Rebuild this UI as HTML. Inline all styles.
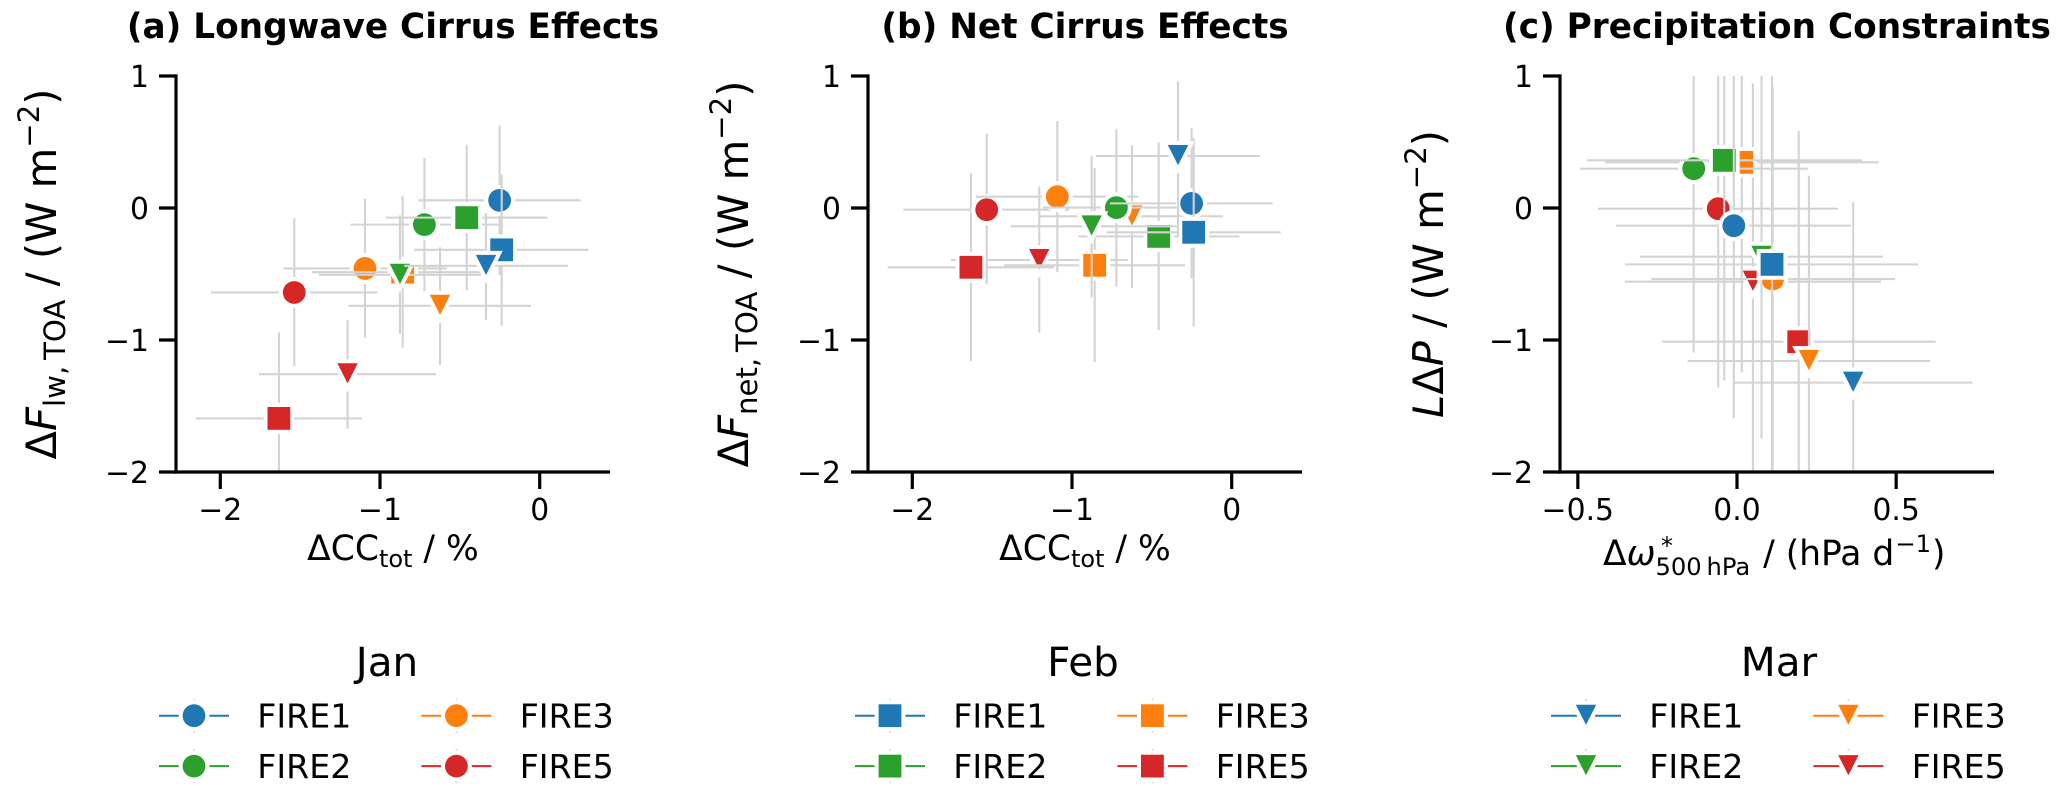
<!DOCTYPE html>
<html lang="en">
<head>
<meta charset="utf-8">
<title>Cirrus Effects</title>
<style>
html,body{margin:0;padding:0;background:#fff;}
svg{display:block;}
text{font-family:"DejaVu Sans","Liberation Sans",sans-serif;fill:#000;white-space:pre;}
.it{font-style:italic;}
</style>
</head>
<body>
<svg id="fig" xmlns="http://www.w3.org/2000/svg" width="2067" height="795" viewBox="0 0 2067 795">
  <rect x="0" y="0" width="2067" height="795" fill="#fff"/>
  <text x="393" y="38" font-size="34.3" font-weight="bold" text-anchor="middle">(a) Longwave Cirrus Effects</text>
  <text x="1085" y="38" font-size="34.3" font-weight="bold" text-anchor="middle">(b) Net Cirrus Effects</text>
  <text x="1777" y="38" font-size="34.3" font-weight="bold" text-anchor="middle">(c) Precipitation Constraints</text>

  <text transform="translate(56,274) rotate(-90)" font-size="41.7" text-anchor="middle">Δ<tspan class="it">F</tspan><tspan font-size="29.2" dy="9">lw,&#8201;TOA</tspan><tspan dy="-9"> / (W m</tspan><tspan font-size="29.2" dy="-17">−2</tspan><tspan dy="17">)</tspan></text>
  <text transform="translate(748,274) rotate(-90)" font-size="41.7" text-anchor="middle">Δ<tspan class="it">F</tspan><tspan font-size="29.2" dy="9">net,&#8201;TOA</tspan><tspan dy="-9"> / (W m</tspan><tspan font-size="29.2" dy="-17">−2</tspan><tspan dy="17">)</tspan></text>
  <text transform="translate(1443,274) rotate(-90)" font-size="41.7" text-anchor="middle"><tspan class="it">L</tspan>Δ<tspan class="it">P</tspan> / (W m<tspan font-size="29.2" dy="-17">−2</tspan><tspan dy="17">)</tspan></text>

  <text x="393" y="560" font-size="34.5" text-anchor="middle">ΔCC<tspan font-size="24" dy="7">tot</tspan><tspan dy="-7"> / %</tspan></text>
  <text x="1085" y="560" font-size="34.5" text-anchor="middle">ΔCC<tspan font-size="24" dy="7">tot</tspan><tspan dy="-7"> / %</tspan></text>
  <text x="1603" y="565" font-size="34.5">Δ<tspan class="it">ω</tspan><tspan font-size="24.2" dy="10">500&#8201;hPa</tspan><tspan dy="-10" dx="2"> / (hPa d</tspan><tspan font-size="24.2" dy="-13" dx="1">−1</tspan><tspan dy="13" dx="1">)</tspan></text>
  <text x="1667" y="554" font-size="24" text-anchor="middle">*</text>
  <g id="panels"></g>
  <g id="legends"></g>
</svg>
<script>
// Point order in every array: Jan[FIRE1,FIRE2,FIRE3,FIRE5], Feb[...], Mar[...]
const months = ["Jan", "Feb", "Mar"];
const fires = ["FIRE1", "FIRE2", "FIRE3", "FIRE5"];
const fireColors = ["#1f77b4", "#2ca02c", "#ff7f0e", "#d62728"];
const monthShapes = ["circle", "square", "triangle"];
const yTicks = [1, 0, -1, -2];
const xTicksCC = [-2, -1, 0];
const xTicksOmega = [-0.5, 0.0, 0.5];

const aX   = [-0.251,-0.722,-1.094,-1.537, -0.238,-0.457,-0.858,-1.633, -0.336,-0.875,-0.624,-1.203];
const aY   = [ 0.058,-0.126,-0.458,-0.640, -0.317,-0.073,-0.486,-1.594, -0.438,-0.506,-0.741,-1.259];
const aXlo = [-0.760,-1.184,-1.605,-2.058, -0.785,-0.962,-1.426,-2.154, -0.848,-1.382,-1.198,-1.758];
const aXhi = [ 0.257,-0.259,-0.582,-1.017,  0.307, 0.048,-0.363,-1.113,  0.177,-0.367,-0.054,-0.649];
const aYlo = [-0.509,-0.630,-0.982,-1.196, -0.892,-0.622,-1.058,-2.100, -0.849,-0.955,-1.189,-1.673];
const aYhi = [ 0.625, 0.380, 0.071,-0.078,  0.254, 0.479, 0.093,-0.942, -0.038,-0.055,-0.297,-0.849];

const bX   = [-0.251,-0.722,-1.092,-1.534, -0.238,-0.457,-0.858,-1.633, -0.336,-0.877,-0.624,-1.205];
const bY   = [ 0.035, 0.003, 0.086,-0.013, -0.184,-0.215,-0.434,-0.449,  0.394,-0.139,-0.063,-0.394];
const bXlo = [-0.762,-1.182,-1.603,-2.056, -0.783,-0.960,-1.424,-2.154, -0.850,-1.382,-1.200,-1.758];
const bXhi = [ 0.257,-0.271,-0.585,-1.017,  0.307, 0.048,-0.292,-1.113,  0.177,-0.344,-0.054,-0.651];
const bYlo = [-0.533,-0.596,-0.487,-0.578, -0.899,-0.924,-1.169,-1.159, -0.217,-0.677,-0.604,-0.944];
const bYhi = [ 0.604, 0.598, 0.659, 0.561,  0.528, 0.497, 0.303, 0.263,  0.957, 0.394, 0.475, 0.162];

const cX   = [-0.010,-0.136, 0.112,-0.059,  0.110,-0.040, 0.015, 0.194,  0.365, 0.077, 0.226, 0.050];
const cY   = [-0.134, 0.298,-0.538,-0.005, -0.427, 0.361, 0.346,-1.013, -1.323,-0.369,-1.159,-0.558];
const cXlo = [-0.380,-0.494,-0.269,-0.437, -0.352,-0.471,-0.415,-0.235, -0.010,-0.305,-0.155,-0.352];
const cXhi = [ 0.358, 0.222, 0.497, 0.317,  0.570, 0.393, 0.445, 0.624,  0.740, 0.459, 0.607, 0.452];
const cYlo = [-1.593,-1.096,-2.100,-1.361, -2.100,-1.308,-1.247,-2.100, -2.100,-1.745,-2.100,-2.100];
const cYhi = [ 1.200, 1.200, 0.919, 1.200,  1.200, 1.200, 1.200, 0.583,  0.048, 1.200, 0.245, 0.944];

const SVGNS = "http://www.w3.org/2000/svg";
const GRAY = "#d3d3d3";
const panelsRoot = document.getElementById("panels");
const legendsRoot = document.getElementById("legends");

function mk(parent, tag, attrs) {
  const el = document.createElementNS(SVGNS, tag);
  for (const k in attrs) el.setAttribute(k, attrs[k]);
  parent.appendChild(el);
  return el;
}

function markerGeometry(shape, cx, cy) {
  if (shape === "circle") return { tag: "circle", attrs: { cx: cx, cy: cy, r: 11.4 } };
  if (shape === "square") return { tag: "rect", attrs: { x: cx - 11.4, y: cy - 11.4, width: 22.8, height: 22.8 } };
  const pts = (cx - 10.2) + "," + (cy - 11) + " " + (cx + 10.2) + "," + (cy - 11) + " " + cx + "," + (cy + 9.2);
  return { tag: "polygon", attrs: { points: pts } };
}

function drawMarker(parent, shape, cx, cy, color) {
  const geo = markerGeometry(shape, cx, cy);
  const halo = mk(parent, geo.tag, geo.attrs);
  halo.setAttribute("fill", "#fff");
  halo.setAttribute("stroke", "#fff");
  halo.setAttribute("stroke-width", "8");
  halo.setAttribute("stroke-linejoin", "miter");
  halo.setAttribute("stroke-miterlimit", "10");
  
  
  const body = mk(parent, geo.tag, geo.attrs);
  body.setAttribute("fill", color);
  
  
}

function fmtTick(v, decimals) {
  const s = Math.abs(v).toFixed(decimals);
  return (v < 0 ? "\u2212" : "") + s;
}

function drawPanel(id, left, zeroX, pxPerX, xTicks, decimals, X, Y, Xlo, Xhi, Ylo, Yhi) {
  const right = left + 434;
  const top = 76, bottom = 472, zeroY = 208, pxPerY = 132;
  const xs = function (v) { return zeroX + v * pxPerX; };
  const ys = function (v) { return zeroY - v * pxPerY; };

  const g = mk(panelsRoot, "g", {});
  
  

  const defs = mk(g, "defs", {});
  const clip = mk(defs, "clipPath", { id: "clip-" + id });
  mk(clip, "rect", { x: left, y: top, width: right - left, height: bottom - top });

  const plot = mk(g, "g", { "clip-path": "url(#clip-" + id + ")" });
  
  

  const fireOrder = [3, 2, 1, 0];
  fireOrder.forEach(function (f) {
    const monthOrder = f === 3 ? [2, 1, 0] : [0, 1, 2];
    monthOrder.forEach(function (m) {
      const month = months[m];
      const i = m * fires.length + f;
      const pt = mk(plot, "g", {});
      
      
      const hLine = mk(pt, "line", { x1: xs(Xlo[i]), x2: xs(Xhi[i]), y1: ys(Y[i]), y2: ys(Y[i]), stroke: GRAY, "stroke-width": 2.1 });
      
      
      const vLine = mk(pt, "line", { x1: xs(X[i]), x2: xs(X[i]), y1: ys(Ylo[i]), y2: ys(Yhi[i]), stroke: GRAY, "stroke-width": 2.1 });
      
      
      drawMarker(pt, monthShapes[m], xs(X[i]), ys(Y[i]), fireColors[f]);
    });
  });

  const spineL = mk(g, "line", { x1: left, x2: left, y1: top - 1.6, y2: bottom + 1.6, stroke: "#000", "stroke-width": 3.2 });
  
  
  const spineB = mk(g, "line", { x1: left - 1.6, x2: right, y1: bottom, y2: bottom, stroke: "#000", "stroke-width": 3.2 });
  
  

  yTicks.forEach(function (v) {
    const t = mk(g, "line", { x1: left - 17, x2: left, y1: ys(v), y2: ys(v), stroke: "#000", "stroke-width": 3.2 });
    
    
    const lbl = mk(g, "text", { x: left - 27, y: ys(v) + 11, "font-size": 29.8, "text-anchor": "end" });
    
    
    lbl.textContent = fmtTick(v, 0);
  });

  xTicks.forEach(function (v) {
    const t = mk(g, "line", { x1: xs(v), x2: xs(v), y1: bottom, y2: bottom + 17, stroke: "#000", "stroke-width": 3.2 });
    
    
    const lbl = mk(g, "text", { x: xs(v), y: 520, "font-size": 29.8, "text-anchor": "middle" });
    
    
    lbl.textContent = fmtTick(v, decimals);
  });
}

drawPanel("a", 176, 539.7, 159.7, xTicksCC, 0, aX, aY, aXlo, aXhi, aYlo, aYhi);
drawPanel("b", 868, 1231.7, 159.7, xTicksCC, 0, bX, bY, bXlo, bXhi, bYlo, bYhi);
drawPanel("c", 1560, 1737, 318.3, xTicksOmega, 1, cX, cY, cXlo, cXhi, cYlo, cYhi);

function drawLegend(m) {
  const off = m * 696;
  const g = mk(legendsRoot, "g", {});
  
  
  const title = mk(g, "text", { x: 387 + off, y: 676, "font-size": 40.5, "text-anchor": "middle" });
  
  
  title.textContent = months[m];

  const layout = [[0, 0], [0, 1], [1, 0], [1, 1]];
  fires.forEach(function (name, f) {
    const col = layout[f][0], row = layout[f][1];
    const cx = 194 + off + col * 262.4;
    const cy = 715.7 + row * 50.4;
    const entry = mk(g, "g", {});
    
    
    mk(entry, "line", { x1: cx, x2: cx, y1: cy - 17, y2: cy + 17, stroke: GRAY, "stroke-width": 1.5 });
    mk(entry, "line", { x1: cx - 35, x2: cx + 35, y1: cy, y2: cy, stroke: fireColors[f], "stroke-width": 2 });
    drawMarker(entry, monthShapes[m], cx, cy, fireColors[f]);
    const lbl = mk(entry, "text", { x: cx + 63.3, y: cy + 12, "font-size": 33.2 });
    
    
    lbl.textContent = name;
  });
}
months.forEach(function (_, m) { drawLegend(m); });
</script>
</body>
</html>
